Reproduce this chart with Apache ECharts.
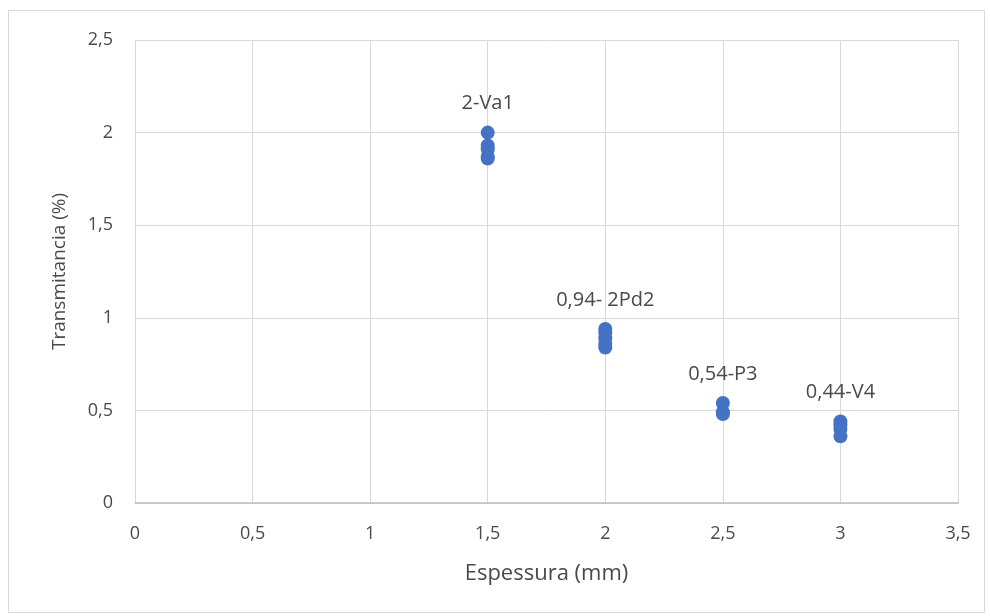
<!DOCTYPE html>
<html>
<head>
<meta charset="utf-8">
<script src="https://cdn.jsdelivr.net/npm/echarts@6/dist/echarts.min.js"></script>
<style>
  html, body { margin: 0; padding: 0; background: #fff; }
  #chart { width: 990px; height: 616px; }
</style>
</head>
<body>
<div id="chart"></div>
<script>
// espessura (mm) e transmitancia (%)
var xValues = [1.5, 1.5, 1.5, 1.5, 1.5, 2, 2, 2, 2, 2, 2.5, 2.5, 2.5, 3, 3, 3, 3];
var yValues = [2.0, 1.93, 1.91, 1.87, 1.86, 0.94, 0.92, 0.89, 0.86, 0.84, 0.54, 0.49, 0.48, 0.44, 0.42, 0.40, 0.36];
// rotulos (so no ponto mais alto de cada grupo)
var pointLabels = ['2-Va1', '', '', '', '', '0,94- 2Pd2', '', '', '', '', '0,54-P3', '', '', '0,44-V4', '', '', ''];

var comma = function (v) { return String(v).replace('.', ','); };
var txt = '#4a4a4a';
var font = 'Open Sans';

var data = xValues.map(function (x, i) {
  var d = { value: [x, yValues[i]] };
  if (pointLabels[i]) {
    d.label = { show: true, formatter: pointLabels[i] };
  }
  return d;
});

var myChart = echarts.init(document.getElementById('chart'));
var option = {
  animation: false,
  textStyle: { fontFamily: font },
  graphic: [{
    type: 'rect',
    shape: { x: 8.5, y: 10.5, width: 976, height: 602 },
    style: { fill: 'none', stroke: '#d9d9d9', lineWidth: 1 }
  }],
  grid: { left: 135, right: 32, top: 40, bottom: 113 },
  xAxis: {
    type: 'value',
    min: 0, max: 3.5, interval: 0.5,
    name: 'Espessura (mm)',
    nameLocation: 'middle',
    nameGap: 60,
    nameTextStyle: { color: txt, fontSize: 22, fontFamily: font },
    axisLine: { show: true, lineStyle: { color: '#bfbfbf', width: 1.5 } },
    axisTick: { show: false },
    axisLabel: { color: txt, fontSize: 18, margin: 22, formatter: comma },
    splitLine: { show: true, lineStyle: { color: '#d9d9d9' } }
  },
  yAxis: {
    type: 'value',
    min: 0, max: 2.5, interval: 0.5,
    name: 'Transmitancia (%)',
    nameLocation: 'middle',
    nameGap: 66,
    nameTextStyle: { color: txt, fontSize: 19, fontFamily: font },
    axisLine: { show: false },
    axisTick: { show: false },
    axisLabel: { color: txt, fontSize: 18, margin: 22, formatter: comma },
    splitLine: { show: true, lineStyle: { color: '#d9d9d9' } }
  },
  series: [{
    type: 'scatter',
    symbolSize: 14,
    itemStyle: { color: '#4472C4', opacity: 1 },
    label: {
      show: false,
      position: 'top',
      distance: 12,
      color: txt,
      fontSize: 20,
      fontFamily: font
    },
    data: data
  }]
};
myChart.setOption(option);
</script>
</body>
</html>
